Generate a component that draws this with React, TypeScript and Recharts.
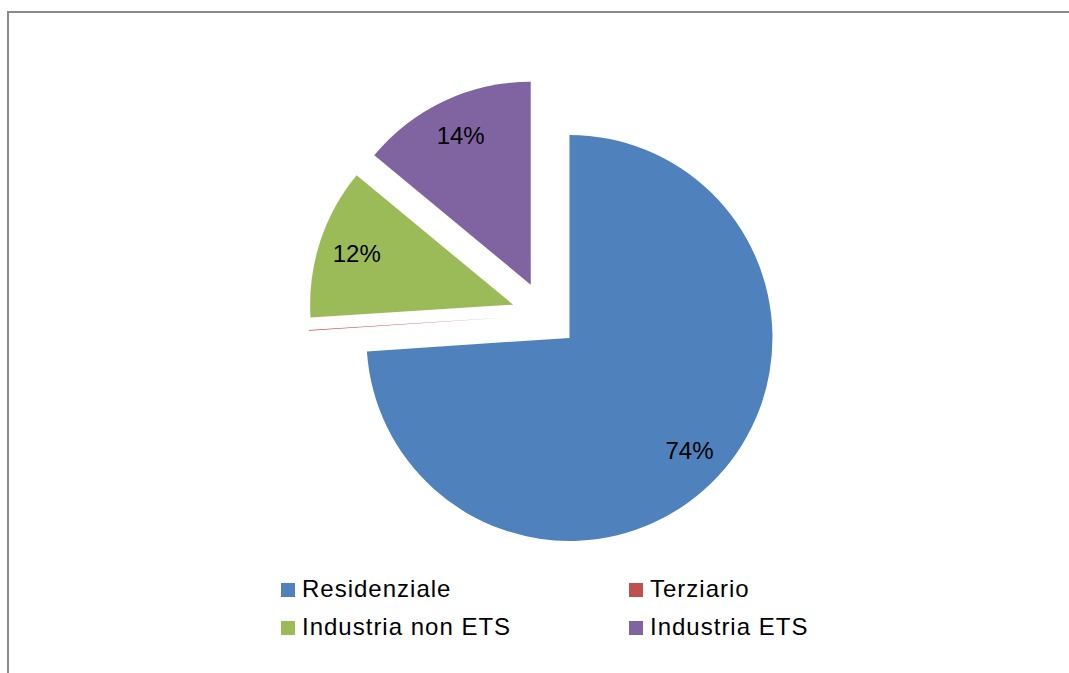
import { PieChart, Pie, Cell, Legend } from "recharts";

const categories = ["Residenziale", "Terziario", "Industria non ETS", "Industria ETS"];
const shares = [73.9, 0.05, 12, 14];
const colors = ["#4F81BD", "#C0504D", "#9BBB59", "#8064A2"];
const showLabel = [true, false, true, true];

const data = categories.map((name, i) => ({ name, value: shares[i] }));

// pie geometry (every slice is pulled out from the common centre)
const CENTER_X = 545;
const CENTER_Y = 315;
const EXPLODE = 33.5;
const RADIUS = 203;
const RAD = Math.PI / 180;
const FONT = "'Liberation Sans', Arial, sans-serif";

// mid angle of every slice, clockwise from 12 o'clock
const total = shares.reduce((a, b) => a + b, 0);
let acc = 0;
const midAngles = shares.map((v) => {
  const m = ((acc + v / 2) / total) * 360;
  acc += v;
  return m;
});

const renderLabel = (slice: number) => (props: any) => {
  if (props.index !== slice || !showLabel[slice]) return null;
  const r = props.outerRadius * 0.81;
  const x = props.cx + r * Math.cos(-props.midAngle * RAD);
  const y = props.cy + r * Math.sin(-props.midAngle * RAD);
  return (
    <text
      x={x}
      y={y}
      textAnchor="middle"
      dominantBaseline="central"
      fill="#000"
      fontSize={24}
      fontFamily={FONT}
    >
      {`${Math.round(props.percent * 100)}%`}
    </text>
  );
};

const LegendBox = () => (
  <div
    style={{
      display: "grid",
      gridTemplateColumns: "348px 348px",
      fontFamily: FONT,
      fontSize: 24,
      letterSpacing: 1,
      lineHeight: "38px",
      color: "#000",
    }}
  >
    {categories.map((name, i) => (
      <div key={name} style={{ display: "flex", alignItems: "center", height: 38 }}>
        <span
          style={{
            display: "inline-block",
            width: 14,
            height: 14,
            background: colors[i],
            marginRight: 7,
            marginTop: 1,
          }}
        />
        <span>{name}</span>
      </div>
    ))}
  </div>
);

export default function App() {
  return (
    <div
      style={{
        position: "fixed",
        left: 0,
        top: 0,
        width: 1069,
        height: 673,
        overflow: "hidden",
        background: "#fff",
      }}
    >
      <div
        style={{
          position: "absolute",
          left: 7,
          top: 11,
          width: 1200,
          height: 800,
          border: "2px solid #8a8a8a",
          boxSizing: "border-box",
        }}
      />
      <div style={{ position: "absolute", left: 0, top: 0 }}>
        <PieChart width={1069} height={673} margin={{ top: 0, right: 0, bottom: 0, left: 0 }}>
          {categories.map((name, slice) => (
            <Pie
              key={name}
              data={data}
              dataKey="value"
              nameKey="name"
              cx={CENTER_X + EXPLODE * Math.sin(midAngles[slice] * RAD)}
              cy={CENTER_Y - EXPLODE * Math.cos(midAngles[slice] * RAD)}
              outerRadius={RADIUS}
              startAngle={90}
              endAngle={-270}
              stroke="none"
              labelLine={false}
              label={renderLabel(slice)}
              isAnimationActive={false}
            >
              {data.map((d, i) => (
                <Cell
                  key={d.name}
                  fill={colors[i]}
                  fillOpacity={i === slice ? 1 : 0}
                  stroke="none"
                />
              ))}
            </Pie>
          ))}
          <Legend
            content={<LegendBox />}
            wrapperStyle={{ position: "absolute", left: 281, top: 570, width: 720 }}
          />
        </PieChart>
      </div>
    </div>
  );
}
